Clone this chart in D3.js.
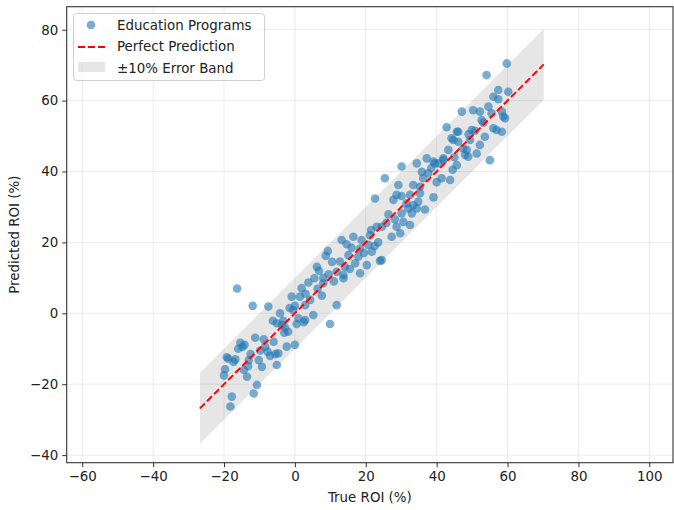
<!DOCTYPE html>
<html><head><meta charset="utf-8">
<script src="https://cdn.jsdelivr.net/npm/d3@7"></script>
<style>body{margin:0;background:#fff;}svg text{font-family:"DejaVu Sans",sans-serif;}</style>
</head><body><svg id="c" width="674" height="510"></svg>
<script>
const trueROI = [-20.0,-19.7,-19.2,-18.8,-18.2,-17.8,-17.3,-16.8,-16.3,-15.4,-14.8,-14.2,-14.4,-13.5,-13.2,-13.0,-12.5,-11.9,-11.6,-11.2,-10.7,-10.2,-9.8,-9.3,-8.8,-8.4,-7.7,-7.5,-7.0,-6.2,-6.0,-5.5,-5.1,-5.1,-4.7,-4.2,-3.7,-3.3,-2.8,-2.3,-1.9,-1.5,-0.9,-0.5,0.0,0.0,0.5,1.0,1.4,1.9,2.5,2.9,2.9,3.8,4.3,5.2,5.5,6.2,6.4,6.8,7.6,8.0,8.7,9.3,9.5,9.9,10.5,11.0,11.8,11.8,12.7,13.2,13.7,13.7,14.1,14.6,15.1,15.5,16.5,17.0,17.9,18.4,18.4,18.8,19.5,20.3,20.7,21.2,21.7,22.6,23.1,23.5,24.0,24.5,24.5,25.4,25.8,26.4,27.3,27.8,28.2,28.7,28.7,29.2,29.7,30.1,30.1,30.1,30.6,31.5,32.0,32.5,32.5,33.0,33.4,33.4,34.4,34.4,34.8,35.3,35.3,35.8,36.2,36.7,37.2,37.6,38.5,39.1,39.1,40.0,40.5,41.4,41.9,42.8,43.3,43.8,44.2,44.5,45.0,45.7,45.7,46.1,47.1,47.5,48.0,48.9,49.4,49.9,50.3,50.8,51.3,52.2,52.2,52.7,53.2,53.6,54.1,54.6,55.0,55.5,56.0,56.0,56.9,57.4,57.4,58.4,58.4,58.8,59.3,59.8,60.2,44.7,46.1,48.5,49.0,41.9,39.5,21.5,22.5,16.0,8.0,3.0,-16.0,-3.0];
const predROI = [-17.5,-15.8,-12.4,-12.8,-26.3,-23.5,-13.7,-13.0,7.0,-8.3,-9.5,-8.9,-16.0,-17.9,-14.9,-13.2,-11.5,2.1,-22.6,-6.9,-20.2,-13.2,-10.5,-15.1,-7.3,-9.4,-10.8,1.9,-12.0,-2.1,-8.0,-11.5,-14.6,-2.8,-11.3,0.0,-3.3,-2.1,-4.0,-9.4,-5.2,1.5,4.7,0.9,2.1,-8.9,-3.0,-1.4,4.7,7.1,-2.5,2.3,-1.9,8.7,3.8,-0.5,9.9,13.1,6.9,12.0,5.0,10.0,16.2,17.6,11.0,-3.0,14.5,9.0,11.7,2.3,14.6,20.7,10.8,9.9,13.1,19.5,16.4,12.5,21.6,14.1,16.0,18.3,11.3,20.7,17.0,13.6,19.3,22.0,17.4,32.4,24.4,20.0,14.8,24.4,15.0,38.1,25.5,27.9,21.6,32.0,26.5,33.4,24.4,36.2,22.6,41.4,33.1,28.2,25.8,31.0,29.6,33.4,24.9,28.2,36.2,30.5,42.3,29.6,31.5,35.7,33.9,39.9,38.1,29.3,43.7,39.5,41.0,42.8,32.7,37.0,42.3,38.1,43.2,52.5,46.1,37.6,49.4,40.5,44.0,51.2,41.8,48.4,56.9,46.5,44.7,44.2,48.9,51.7,57.3,51.5,45.1,56.9,47.5,54.5,53.8,49.8,67.2,58.3,43.2,56.4,61.1,52.2,51.7,63.0,60.4,56.9,51.2,55.5,55.0,70.5,62.5,48.9,51.2,46.1,50.5,43.7,42.3,23.5,19.0,18.5,8.5,5.5,-10.0,-5.5];
const lineRange = [-26.8, 70.2];
const bandWidth = 10;
const xTicks = [-60,-40,-20,0,20,40,60,80,100];
const yTicks = [-40,-20,0,20,40,60,80];
const legendLabels = ["Education Programs","Perfect Prediction","\u00b110% Error Band"];

const svg = d3.select("#c");
const L=66.7,R=673,T=6.7,B=462.7;
const x = d3.scaleLinear().domain([-64.39,106.69]).range([L,R]);
const y = d3.scaleLinear().domain([-42.14,86.49]).range([B,T]);
const FS = 13.4;

const g = svg.append("g");
g.selectAll(".gx").data(xTicks).enter().append("line")
 .attr("x1",d=>x(d)).attr("x2",d=>x(d)).attr("y1",T).attr("y2",B)
 .attr("stroke","#b0b0b0").attr("stroke-opacity",0.3).attr("stroke-width",0.8);
g.selectAll(".gy").data(yTicks).enter().append("line")
 .attr("y1",d=>y(d)).attr("y2",d=>y(d)).attr("x1",L).attr("x2",R)
 .attr("stroke","#b0b0b0").attr("stroke-opacity",0.3).attr("stroke-width",0.8);

svg.append("path").datum(lineRange)
 .attr("d", d3.area().x(d=>x(d)).y0(d=>y(d-bandWidth)).y1(d=>y(d+bandWidth)))
 .attr("fill","#808080").attr("fill-opacity",0.2);

svg.append("g").selectAll("circle").data(trueROI.map((t,i)=>[t,predROI[i]])).enter()
 .append("circle").attr("cx",d=>x(d[0])).attr("cy",d=>y(d[1])).attr("r",4.3)
 .attr("fill","#1f77b4").attr("fill-opacity",0.6);

svg.append("path").datum(lineRange)
 .attr("d", d3.line().x(d=>x(d)).y(d=>y(d)))
 .attr("stroke","#ff0000").attr("stroke-width",1.9).attr("stroke-dasharray","7,3").attr("fill","none");

const fmt = d=>d<0?"\u2212"+(-d):d;
const xAxis = svg.append("g").attr("transform",`translate(0,${B})`)
 .call(d3.axisBottom(x).tickValues(xTicks).tickSize(4.5).tickPadding(4).tickFormat(fmt));
const yAxis = svg.append("g").attr("transform",`translate(${L},0)`)
 .call(d3.axisLeft(y).tickValues(yTicks).tickSize(4.5).tickPadding(4).tickFormat(fmt));
[xAxis,yAxis].forEach(a=>{a.select(".domain").remove();a.selectAll("text").attr("font-size",FS).attr("fill","#222");a.selectAll("line").attr("stroke","#333");});
svg.append("rect").attr("x",L).attr("y",T).attr("width",R-L).attr("height",B-T)
 .attr("fill","none").attr("stroke","#333").attr("stroke-width",1.1);

svg.append("text").attr("x",(L+R)/2).attr("y",502).attr("text-anchor","middle").attr("font-size",FS).attr("fill","#222").text("True ROI (%)");
svg.append("text").attr("transform",`translate(19,${(T+B)/2}) rotate(-90)`).attr("text-anchor","middle").attr("font-size",FS).attr("fill","#222").text("Predicted ROI (%)");

const lg = svg.append("g");
lg.append("rect").attr("x",73.5).attr("y",13.5).attr("width",191).attr("height",67).attr("rx",3)
 .attr("fill","#fff").attr("fill-opacity",0.8).attr("stroke","#d0d0d0");
lg.append("circle").attr("cx",91).attr("cy",25).attr("r",4.3).attr("fill","#1f77b4").attr("fill-opacity",0.6);
lg.append("line").attr("x1",78).attr("x2",105).attr("y1",47).attr("y2",47).attr("stroke","#ff0000").attr("stroke-width",1.9).attr("stroke-dasharray","7,3");
lg.append("rect").attr("x",78).attr("y",62).attr("width",27).attr("height",10).attr("fill","#808080").attr("fill-opacity",0.2);
lg.selectAll("text.l").data(legendLabels).enter().append("text")
 .attr("x",117).attr("y",(d,i)=>25+i*21.5).attr("dy","0.35em").attr("font-size",FS).attr("fill","#222").text(d=>d);
</script></body></html>
